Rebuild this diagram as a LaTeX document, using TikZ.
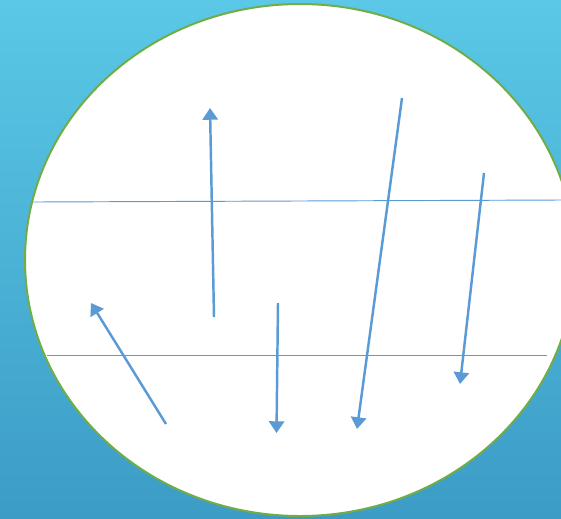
\documentclass[tikz,border=0pt]{standalone}
\usepackage{tikz}
\usetikzlibrary{arrows.meta}

\begin{document}
\begin{tikzpicture}[x=0.03cm,y=-0.03cm]
    \tikzstyle{flow}=[draw={rgb,255:red,91;green,155;blue,213},line width=2.1pt,-{Triangle[length=10pt,width=13pt]}]
    \tikzstyle{level}=[draw={rgb,255:red,91;green,155;blue,213},line width=0.8pt]
      \useasboundingbox (0,0) rectangle (561,518);
      \clip (0,0) rectangle (561,518);
      \shade[top color={rgb,255:red,90;green,200;blue,230},bottom color={rgb,255:red,60;green,156;blue,198}] (0,0) rectangle (561,518);
      \draw[fill=white,draw={rgb,255:red,112;green,173;blue,71},line width=1.7pt] (300,260) ellipse [x radius=275,y radius=256];
      % levels
      \coordinate (L_1a) at (33,202);
      \coordinate (L_1b) at (561,200);
      \coordinate (L_2a) at (47,355.5);
      \coordinate (L_2b) at (547,355.5);
      \draw[level] (L_1a) -- (L_1b);
      \draw[level] (L_2a) -- (L_2b);
      % arrows
      \coordinate (A_1) at (214,317);
      \coordinate (B_1) at (210,108);
      \coordinate (A_2) at (278,303);
      \coordinate (B_2) at (276.5,433);
      \coordinate (A_3) at (402,98);
      \coordinate (B_3) at (357,429);
      \coordinate (A_4) at (484,173);
      \coordinate (B_4) at (460,384);
      \coordinate (A_5) at (166,424);
      \coordinate (B_5) at (91,303);
      \draw[flow] (A_1) -- (B_1);
      \draw[flow] (A_2) -- (B_2);
      \draw[flow] (A_3) -- (B_3);
      \draw[flow] (A_4) -- (B_4);
      \draw[flow] (A_5) -- (B_5);
    \end{tikzpicture}
\end{document}
